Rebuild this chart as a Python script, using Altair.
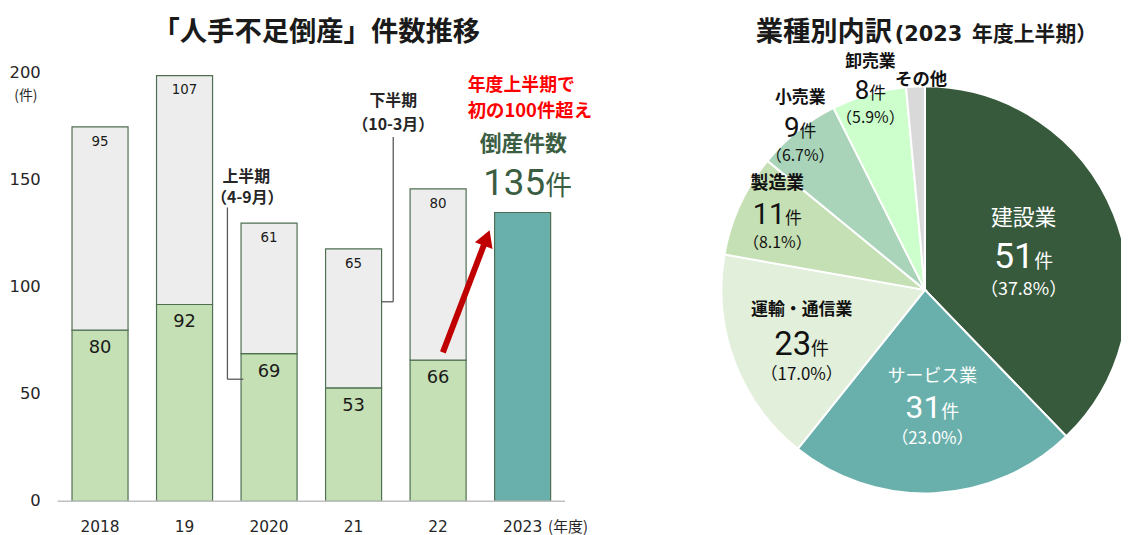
import altair as alt
import pandas as pd

# ---------------- data ----------------
years = ["2018", "19", "2020", "21", "22", "2023"]
first_half = [80, 92, 69, 53, 66, 135]      # 上半期 (4-9月)
second_half = [95, 107, 61, 65, 80, None]   # 下半期 (10-3月)
y_ticks = [0, 50, 100, 150, 200]

industries = ["建設業", "サービス業", "運輸・通信業", "製造業", "小売業", "卸売業", "その他"]
industry_counts = [51, 31, 23, 11, 9, 8, 2]
industry_pct = ["（37.8%）", "（23.0%）", "（17.0%）", "（8.1%）", "（6.7%）", "（5.9%）", ""]
show_count = [True, True, True, True, True, True, False]

# ---------------- styles / layout (not data) ----------------
JP = "Noto Sans CJK JP"
NUM = "DejaVu Sans"
DIG = "Roboto"
W, H = 1121, 527
DARK = "#1A1A1A"
GREEN_TXT = "#3B5E43"

bar_parts = ["上半期", "下半期", "当期"]
bar_colors = ["#C5E0B4", "#EDEDED", "#69B0AC"]

pie_colors = ["#375A3C", "#69B0AC", "#E2EFDA", "#C5E0B4", "#A9D4B9", "#CCFFCC", "#D9D9D9"]
lab_color = ["white", "white", "#111111", "#111111", "#111111", "#111111", "#111111"]
lab_weight = ["normal", "normal", "bold", "bold", "bold", "bold", "bold"]
lab_r = [104, 119, 138, 169, 209, 210, 212]
lab_ox = [3, 2, 5, 5, 5, 3, 6]
lab_oy = [4, -1, 5, -6, -1, 0, 0]
name_fs = [22, 18, 17, 18, 17, 17, 17.5]
num_fs = [36, 32, 33, 29, 28, 26, 0]
ken_fs = [19, 18, 18, 17, 17, 17, 0]
pct_fs = [18, 17, 17, 16, 16, 16, 0]
name_dy = [-37, -30, -33, -30, -29, -28, 0]
pct_dy = [35, 32, 32, 29, 29, 29, 0]
PIE_CX, PIE_CY, PIE_R = 923.5, 282, 205

# ---------------- tables ----------------
bar_rows = []
for i, yr in enumerate(years):
    if second_half[i] is None:
        bar_rows.append({"year": yr, "part": "当期", "value": first_half[i], "ord": 0})
    else:
        bar_rows.append({"year": yr, "part": "上半期", "value": first_half[i], "ord": 0})
        bar_rows.append({"year": yr, "part": "下半期", "value": second_half[i], "ord": 1})
bar_df = pd.DataFrame(bar_rows)

lab_df = pd.DataFrame({
    "year": [y for y, s in zip(years, second_half) if s is not None],
    "h1": [f for f, s in zip(first_half, second_half) if s is not None],
    "h2": [s for s in second_half if s is not None],
})

pie_df = pd.DataFrame({
    "industry": industries,
    "count": industry_counts,
    "ord": list(range(len(industries))),
    "num": [str(c) if s else "" for c, s in zip(industry_counts, show_count)],
    "ken": ["件" if s else "" for s in show_count],
    "pct": industry_pct,
    "tc": lab_color,
    "lw": lab_weight,
    "r": lab_r,
    "ox": lab_ox,
    "oy": lab_oy,
    "name_fs": name_fs,
    "num_fs": num_fs,
    "ken_fs": ken_fs,
    "pct_fs": pct_fs,
    "name_dy": name_dy,
    "pct_dy": pct_dy,
})

# ---------------- scales ----------------
XS = alt.Scale(domain=years, range=[50, 561], paddingInner=0.337, paddingOuter=0.17)
YS = alt.Scale(domain=[0, 200], range=[495, 64], nice=False, zero=True)

# ---------------- bar chart ----------------
bars = alt.Chart(bar_df).mark_bar(stroke="#4F6F52", strokeWidth=1.2).encode(
    x=alt.X("year:N", scale=XS, axis=None, sort=years),
    y=alt.Y("value:Q", scale=YS, axis=None, stack="zero"),
    color=alt.Color("part:N", scale=alt.Scale(domain=bar_parts, range=bar_colors), legend=None),
    order=alt.Order("ord:Q"),
)

# axis drawn from the same scales
x_domain = alt.Chart(pd.DataFrame({"v": [0]})).mark_rule(color="#BFBFBF", strokeWidth=1.5).encode(
    y=alt.Y("v:Q", scale=YS, axis=None), x=alt.value(50), x2=alt.value(561)
)
x_labels = alt.Chart(pd.DataFrame({"year": years})).mark_text(
    baseline="middle", fontSize=15.5, font=NUM, color="#262626"
).encode(x=alt.X("year:N", scale=XS, axis=None, sort=years), y=alt.value(520.5), text="year:N")
y_labels = alt.Chart(pd.DataFrame({"v": y_ticks})).mark_text(
    align="right", baseline="middle", fontSize=16.5, font=NUM, color="#262626"
).encode(y=alt.Y("v:Q", scale=YS, axis=None), x=alt.value(33), text="v:Q")

lower_labels = alt.Chart(lab_df).mark_text(
    baseline="middle", dy=18, fontSize=18, font=NUM, color=DARK
).encode(
    x=alt.X("year:N", scale=XS, axis=None, sort=years),
    y=alt.Y("h1:Q", scale=YS, axis=None),
    text="h1:Q",
)

upper_labels = alt.Chart(lab_df).transform_calculate(
    total="datum.h1 + datum.h2"
).mark_text(
    baseline="middle", dy=15, fontSize=13.5, font=NUM, color=DARK
).encode(
    x=alt.X("year:N", scale=XS, axis=None, sort=years),
    y=alt.Y("total:Q", scale=YS, axis=None),
    text="h2:Q",
)


def note(txt, x, y, size, color="#262626", weight="bold", align="center",
         baseline="middle", font=JP):
    return alt.Chart(pd.DataFrame({"t": [txt]})).mark_text(
        align=align, baseline=baseline, fontSize=size, fontWeight=weight,
        color=color, font=font
    ).encode(text="t:N", x=alt.value(x), y=alt.value(y))


def line(x1, y1, x2, y2, color="#595959", width=1.3):
    return alt.Chart(pd.DataFrame({"a": [0]})).mark_rule(
        color=color, strokeWidth=width
    ).encode(x=alt.value(x1), y=alt.value(y1), x2=alt.value(x2), y2=alt.value(y2))


annotations = [
    note("「人手不足倒産」件数推移", 310.5, 31.5, 27.5, color=DARK, baseline="alphabetic"),
    note("(件)", 18, 87, 14, weight="normal"),
    note("(年度)", 544, 520.5, 15, weight="normal", align="left"),
    note("上半期", 240, 168, 16),
    note("（4-9月）", 241, 190, 16),
    note("下半期", 388, 92, 16),
    note("（10-3月）", 388, 116, 16),
    line(221, 199, 221, 372),
    line(221, 372, 237, 372),
    line(388, 128, 388, 294),
    line(376, 294, 388, 294),
    note("年度上半期で", 463, 77, 18, color="#FF0000", align="left"),
    note("初の100件超え", 463, 102, 18.5, color="#FF0000", align="left"),
    note("倒産件数", 519, 135, 22, color=GREEN_TXT),
    note("135", 541, 186, 37, color=GREEN_TXT, weight="normal", align="right",
         baseline="alphabetic", font=DIG),
    note("件", 541, 186, 27, color=GREEN_TXT, weight="normal", align="left",
         baseline="alphabetic"),
    line(438, 345, 479.6, 236, color="#C00000", width=6),
    alt.Chart(pd.DataFrame({"a": [0]})).mark_point(
        shape="triangle-up", filled=True, size=360, angle=21, color="#C00000", opacity=1
    ).encode(x=alt.value(482.1), y=alt.value(229.7)),
    note("業種別内訳", 753, 31.5, 27.5, color=DARK, align="left", baseline="alphabetic"),
    note("(2023", 893, 31.5, 21, color=DARK, align="left", baseline="alphabetic", font=NUM),
    note("年度上半期）", 971, 31.5, 21, color=DARK, align="left", baseline="alphabetic"),
]

# ---------------- pie ----------------
theta = alt.Theta("count:Q", stack=True)
order = alt.Order("ord:Q")

pie = alt.Chart(pie_df).mark_arc(outerRadius=PIE_R, stroke="white", strokeWidth=2).encode(
    theta=theta,
    order=order,
    color=alt.Color("industry:N", scale=alt.Scale(domain=industries, range=pie_colors), legend=None),
    x=alt.value(PIE_CX),
    y=alt.value(PIE_CY),
)

pie_base = alt.Chart(pie_df).encode(
    theta=theta,
    order=order,
    color=alt.Color("tc:N", scale=None),
    x=alt.value(PIE_CX),
    y=alt.value(PIE_CY),
)

R = {"expr": "datum.r"}
DX_NUM = {"expr": "datum.ox + (length(datum.num) * 0.56 * datum.num_fs - datum.ken_fs) / 2"}
DY_NUM = {"expr": "datum.oy + datum.num_fs * 0.36"}

pie_names = pie_base.mark_text(
    font=JP, baseline="middle", radius=R,
    fontWeight={"expr": "datum.lw"},
    dx={"expr": "datum.ox"}, dy={"expr": "datum.oy + datum.name_dy"}
).encode(text="industry:N", size=alt.Size("name_fs:Q", scale=None))

pie_nums = pie_base.mark_text(
    font=DIG, align="right", baseline="alphabetic", radius=R, dx=DX_NUM, dy=DY_NUM,
).encode(text="num:N", size=alt.Size("num_fs:Q", scale=None))

pie_ken = pie_base.mark_text(
    font=JP, align="left", baseline="alphabetic", radius=R, dx=DX_NUM, dy=DY_NUM,
).encode(text="ken:N", size=alt.Size("ken_fs:Q", scale=None))

pie_pct = pie_base.mark_text(
    font=JP, baseline="middle", radius=R,
    dx={"expr": "datum.ox"}, dy={"expr": "datum.oy + datum.pct_dy"}
).encode(text="pct:N", size=alt.Size("pct_fs:Q", scale=None))

chart = alt.layer(
    bars, x_domain, x_labels, y_labels, lower_labels, upper_labels,
    pie, pie_names, pie_nums, pie_ken, pie_pct,
    *annotations
).properties(
    width=W, height=H,
    autosize=alt.AutoSizeParams(type="none"),
    padding=0,
).resolve_scale(color="independent").configure_view(stroke=None)

chart.save("out.html", embed_options={"renderer": "svg", "actions": False})
